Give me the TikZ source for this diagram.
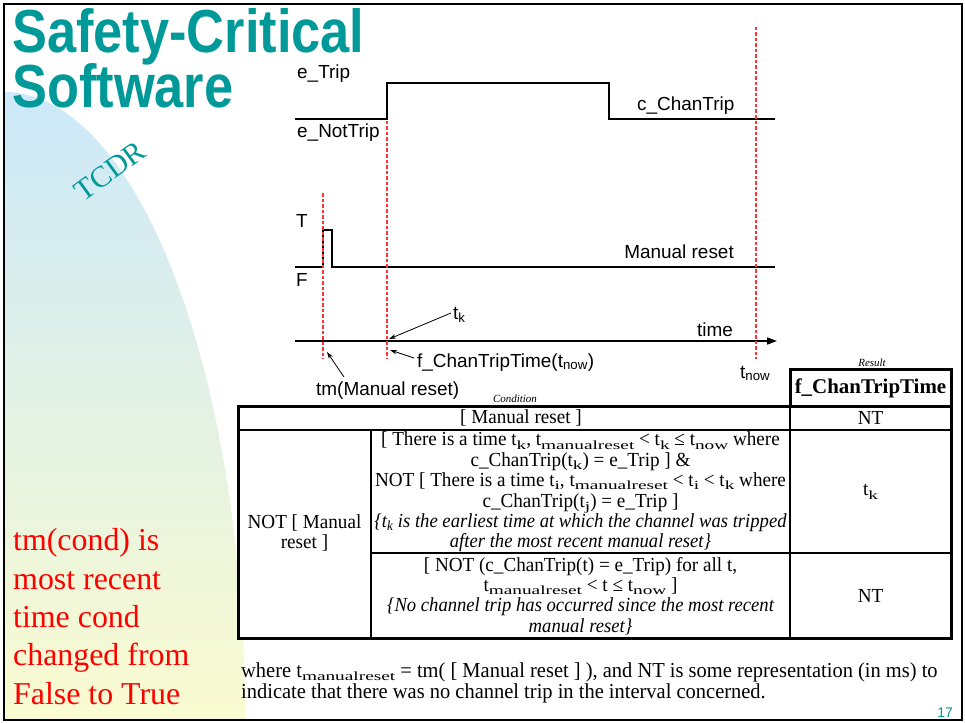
\documentclass[tikz,border=0pt]{standalone}
\usepackage{fontspec}
\setmainfont{Liberation Serif}
\setsansfont{Liberation Sans}
\newfontfamily\titlefont[FakeStretch=0.862]{Liberation Sans}
\newfontfamily\tabfont[FakeStretch=0.96]{Liberation Serif}
\newfontfamily\tabitfont[FakeStretch=0.935]{Liberation Serif}
\newfontfamily\subfont[FakeStretch=1.55]{Liberation Serif}
\newcommand\tsub[1]{\raisebox{-0.17em}{\subfont\fontsize{12.5}{12.5}\selectfont #1}}
\usetikzlibrary{arrows.meta}
\definecolor{tealtitle}{RGB}{0,153,153}
\definecolor{bandtop}{RGB}{204,232,249}
\definecolor{bandbot}{RGB}{250,251,208}
\definecolor{reddash}{RGB}{255,51,51}
\tikzset{
  sig/.style={line width=1.6bp, black},
  guide/.style={line width=1.4bp, reddash, dash pattern=on 3.5bp off 2bp},
  note/.style={line width=0.8bp, -{Stealth[length=7bp,width=4.5bp]}},
  lab/.style={inner sep=0pt, font=\sffamily\fontsize{19}{22}\selectfont},
  tabtxt/.style={inner sep=0pt, align=center, font=\tabfont\fontsize{20}{20.5}\selectfont},
  thickrule/.style={line width=3bp},
  thinrule/.style={line width=1.5bp},
}
\begin{document}
\begin{tikzpicture}[x=1bp,y=-1bp]
\useasboundingbox (0,0) rectangle (965,723);
\fill[white] (0,0) rectangle (965,723);
% left shaded band
\shade[top color=bandtop, bottom color=bandbot]
  (4,92) arc[start angle=-90, end angle=0, x radius=241, y radius=628] -- (4,720) -- cycle;
% frame
\draw[line width=2bp] (4,4) rectangle (962,720);
% title
\node[anchor=base west, inner sep=0pt, text=tealtitle, font=\titlefont\bfseries\fontsize{61}{61}\selectfont] (t1) at (12,53) {Safety-Critical};
\node[anchor=base west, inner sep=0pt, text=tealtitle, font=\titlefont\bfseries\fontsize{61}{61}\selectfont] (t2) at (12,108) {Software};
\node[rotate=36, text=tealtitle, inner sep=0pt, font=\rmfamily\fontsize{30}{30}\selectfont] (tcdr) at (110,171) {TCDR};

% red side note
\node[anchor=base west, inner sep=0pt, text=red, align=left, font=\rmfamily\fontsize{32}{38.4}\selectfont] (side) at (13,704)
  {tm(cond) is\\most recent\\time cond\\changed from\\False to True};

% guide lines
\coordinate (d1a) at (323,193); \coordinate (d1b) at (323,359);
\coordinate (d2a) at (387,121); \coordinate (d2b) at (387,359);
\coordinate (d3a) at (756,27);  \coordinate (d3b) at (756,359);

% signals
\draw[sig] (295,119) -- (387,119) -- (387,83) -- (609,83) -- (609,119) -- (775,119);
\draw[sig] (295,267) -- (323,267) -- (323,230) -- (332,230) -- (332,267) -- (775,267);
\coordinate (ax0) at (295,341); \coordinate (ax1) at (777,341);
\draw[sig, -{Triangle[length=10bp,width=7bp]}] (ax0) -- (ax1);

\draw[guide] (d1a) -- (d1b);
\draw[guide] (d2a) -- (d2b);
\draw[guide] (d3a) -- (d3b);

% signal labels
\node[lab, anchor=base west] (etrip) at (297,79) {e\_Trip};
\node[lab, anchor=base west] (enot) at (297,138) {e\_NotTrip};
\node[lab, anchor=base west] (cchan) at (637,111) {c\_ChanTrip};
\node[lab, anchor=base west] (T) at (296,227) {T};
\node[lab, anchor=base west] (F) at (296,286) {F};
\node[lab, anchor=base east] (mr) at (734,258) {Manual reset};
\node[lab, anchor=base east] (time) at (733,336) {time};
\node[lab, anchor=base west] (tk) at (453,319) {t\textsubscript{k}};
\node[lab, anchor=base west] (fct) at (417,367) {f\_ChanTripTime(t\textsubscript{now})};
\node[lab, anchor=base west] (tm) at (316,395) {tm(Manual reset)};
\node[lab, anchor=base west] (tnow) at (740,378) {t\textsubscript{now}};

% annotation arrows
\coordinate (tkfrom) at (451,313); \coordinate (tkto) at (389,339);
\coordinate (ffrom) at (414,358);  \coordinate (fto) at (390,350);
\coordinate (tmfrom) at (344,377); \coordinate (tmto) at (327,352);
\draw[note] (tkfrom) -- (tkto);
\draw[note] (ffrom) -- (fto);
\draw[note] (tmfrom) -- (tmto);

% table
\fill[white] (238,406) rectangle (951,638);
\fill[white] (790,369) rectangle (951,406);
\coordinate (A) at (238,406); \coordinate (B) at (951,638);
\draw[thinrule] (238,430) -- (951,430);
\draw[thinrule] (371,430) -- (371,638);
\draw[thinrule] (371,553) -- (951,553);
\draw[thinrule] (790,406) -- (790,638);
\draw[thickrule] (A) rectangle (B);
\draw[thickrule] (790,406) rectangle (951,369);

\node[inner sep=0pt, font=\itshape\fontsize{11}{11}\selectfont] (res) at (872,363) {Result};
\node[inner sep=0pt, font=\itshape\fontsize{11}{11}\selectfont] (cond) at (515,399) {Condition};
\node[inner sep=0pt, font=\bfseries\fontsize{21}{21}\selectfont] (hdr) at (870.5,388) {f\_ChanTripTime};

\node[tabtxt] (r1c) at (521,418) {[ Manual reset ]};
\node[tabtxt] (r1r) at (870.5,418) {NT};
\node[tabtxt] (left) at (304.5,533) {NOT [ Manual\\reset ]};
\node[tabtxt] (r2c) at (580.5,492)
 {[ There is a time t\tsub{k}, t\tsub{manualreset} < t\tsub{k} ≤ t\tsub{now} where\\
  c\_ChanTrip(t\tsub{k}) = e\_Trip ] \&\\
  NOT [ There is a time t\tsub{i}, t\tsub{manualreset} < t\tsub{i} < t\tsub{k} where\\
  c\_ChanTrip(t\tsub{j}) = e\_Trip ]\\
  {\tabitfont\itshape \{t\textsubscript{k} is the earliest time at which the channel was tripped}\\
  {\tabitfont\itshape after the most recent manual reset\}}};
\node[tabtxt] (r2r) at (870.5,492) {t\tsub{k}};
\node[tabtxt] (r3c) at (580.5,596)
 {[ NOT (c\_ChanTrip(t) = e\_Trip) for all t,\\
  t\tsub{manualreset} < t ≤ t\tsub{now} ]\\
  {\tabitfont\itshape \{No channel trip has occurred since the most recent}\\
  {\tabitfont\itshape manual reset\}}};
\node[tabtxt] (r3r) at (870.5,596) {NT};

% footnote
\node[anchor=base west, inner sep=0pt, align=left, font=\tabfont\fontsize{21.4}{21}\selectfont] (foot) at (241,698)
 {where t\tsub{manualreset} = tm( [ Manual reset ] ), and NT is some representation (in ms) to\\
  indicate that there was no channel trip in the interval concerned.};
\node[anchor=base east, inner sep=0pt, text=tealtitle, font=\sffamily\fontsize{14}{14}\selectfont] (pg) at (953,717) {17};
\end{tikzpicture}
\end{document}
